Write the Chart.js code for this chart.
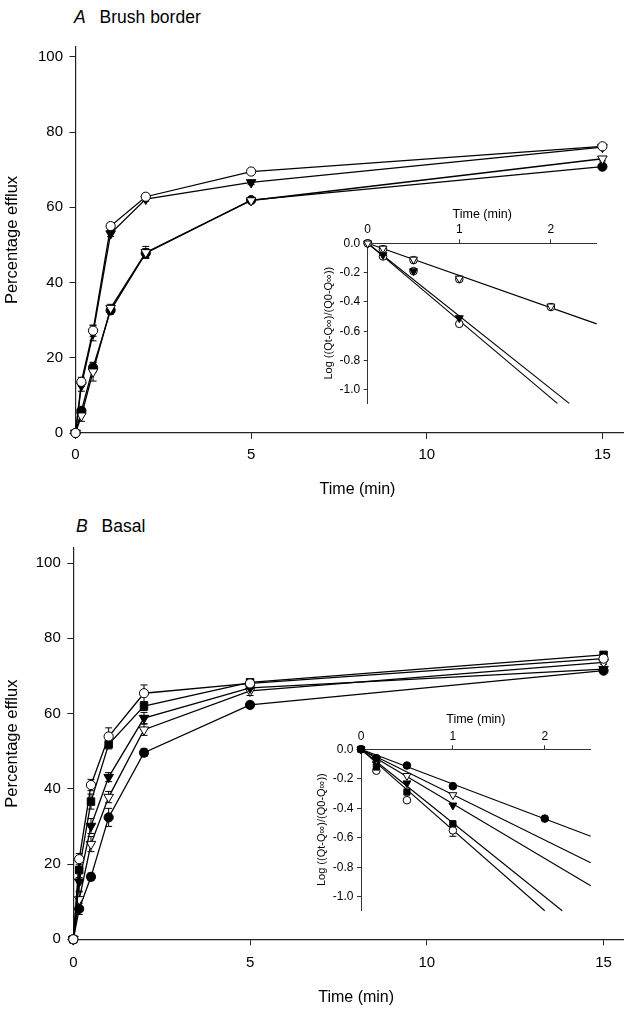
<!DOCTYPE html>
<html>
<head>
<meta charset="utf-8">
<script src="https://cdn.jsdelivr.net/npm/chart.js@4.4.0/dist/chart.umd.min.js"></script>
<style>
body { margin: 0; background: #fff; }
#wrap { position: relative; width: 630px; height: 1009px; font-family: "Liberation Sans", Arial, sans-serif; }
canvas { position: absolute; }
.panel { position: absolute; font-size: 17.5px; color: #000; white-space: nowrap; }
.panel i { margin-right: 9px; }
</style>
</head>
<body>
<div id="wrap">
  <div class="panel" style="left:74px;top:7px"><i>A</i> Brush border</div>
  <div class="panel" style="left:76px;top:516px"><i>B</i> Basal</div>
  <canvas id="mainA" width="630" height="505" style="left:0;top:0"></canvas>
  <canvas id="insetA" width="300" height="225" style="left:310px;top:190px"></canvas>
  <canvas id="mainB" width="630" height="509" style="left:0;top:500px"></canvas>
  <canvas id="insetB" width="305" height="222" style="left:300px;top:700px"></canvas>
</div>
<script>
// time points (min)
const times = [0, 0.167, 0.5, 1, 2, 5, 15];
const insetTimes = [0, 0.167, 0.5, 1, 2];

// A - brush border, percentage efflux
const aOpenCircle   = [0, 13.6, 27.2, 55.0, 62.8, 69.5, 76.2];
const aFilledTri    = [0, 12.6, 26.5, 53.0, 62.2, 66.6, 76.0];
const aOpenTri      = [0, 4.6, 16.3, 33.2, 48.0, 61.8, 72.9];
const aFilledCircle = [0, 5.9, 17.4, 32.6, 47.8, 61.9, 70.8];
const aErrOpenCircle   = [0, 1.2, 1.5, 0.8, 0.8, 0.6, 0.5];
const aErrFilledTri    = [0, 1.5, 2.0, 0.8, 0.6, 0.6, 0.5];
const aErrOpenTri      = [0, 1.5, 2.5, 1.0, 1.6, 0.5, 0.6];
const aErrFilledCircle = [0, 1.0, 1.2, 1.0, 1.2, 0.5, 0.5];

// A inset, log((Qt-Qinf)/(Q0-Qinf))
const aLogOpenCircle   = [0, -0.09, -0.19, -0.55, null];
const aLogFilledTri    = [0, -0.08, -0.19, -0.51, null];
const aLogOpenTri      = [0, -0.035, -0.11, -0.24, -0.43];
const aLogFilledCircle = [0, -0.04, -0.115, -0.245, -0.435];
// fitted lines: [start, end] as [t, log]
const aFitShallow = [[0, 0], [2.5, -0.55]];
const aFitSteep1  = [[0, 0], [2.07, -1.093]];
const aFitSteep2  = [[0, 0], [2.2, -1.093]];

// B - basal, percentage efflux
const bOpenCircle   = [0, 21.3, 41.0, 53.9, 65.4, 68.0, 74.6];
const bFilledSquare = [0, 18.4, 36.6, 51.8, 62.0, 68.3, 75.6];
const bFilledTri    = [0, 15.3, 30.1, 43.1, 58.8, 66.8, 71.8];
const bOpenTri      = [0, 10.6, 25.3, 37.8, 55.7, 66.0, 73.6];
const bFilledCircle = [0, 8.1, 16.6, 32.4, 49.6, 62.3, 71.4];
const bErrOpenCircle   = [0, 1.5, 1.5, 2.3, 2.2, 0.6, 0.5];
const bErrFilledSquare = [0, 2.0, 2.0, 1.2, 1.2, 0.6, 0.5];
const bErrFilledTri    = [0, 2.5, 2.0, 1.2, 1.5, 0.6, 0.5];
const bErrOpenTri      = [0, 2.0, 2.0, 1.5, 1.5, 1.2, 0.5];
const bErrFilledCircle = [0, 1.5, 1.0, 2.4, 1.0, 0.8, 0.5];

// B inset
const bLogOpenCircle   = [0, -0.145, -0.345, -0.55, null];
const bLogFilledSquare = [0, -0.12, -0.29, -0.505, null];
const bLogFilledTri    = [0, -0.10, -0.23, -0.38, null];
const bLogOpenTri      = [0, -0.07, -0.18, -0.31, null];
const bLogFilledCircle = [0, -0.06, -0.11, -0.25, -0.47];
const bLogErrOpenCircle = [0, 0, 0, 0.04, 0];
const bFitFilledCircle = [[0, 0], [2.5, -0.59]];
const bFitOpenTri      = [[0, 0], [2.5, -0.77]];
const bFitFilledTri    = [[0, 0], [2.5, -0.925]];
const bFitFilledSquare = [[0, 0], [2.19, -1.095]];
const bFitOpenCircle   = [[0, 0], [2.0, -1.095]];

Chart.defaults.font.family = '"Liberation Sans", Arial, sans-serif';
Chart.defaults.color = '#000';

const errorBars = {
  id: 'errorBars',
  beforeDatasetsDraw(chart) {
    const ctx = chart.ctx, ys = chart.scales.y;
    ctx.save();
    ctx.strokeStyle = '#000';
    ctx.lineWidth = 1;
    chart.data.datasets.forEach((ds, i) => {
      const meta = chart.getDatasetMeta(i);
      ds.data.forEach((p, j) => {
        if (!p.e) return;
        const x = meta.data[j].x;
        const top = ys.getPixelForValue(p.y + p.e);
        const bot = ys.getPixelForValue(p.y - p.e);
        ctx.beginPath();
        ctx.moveTo(x, top); ctx.lineTo(x, bot);
        ctx.moveTo(x - 3.5, top); ctx.lineTo(x + 3.5, top);
        ctx.moveTo(x - 3.5, bot); ctx.lineTo(x + 3.5, bot);
        ctx.stroke();
      });
    });
    ctx.restore();
  }
};

function marker(shape, filled, r) {
  return {
    pointStyle: shape === 'tri' ? 'triangle' : shape,
    pointRotation: shape === 'tri' ? 180 : 0,
    pointRadius: shape === 'tri' ? r * 1.2 : (shape === 'rect' ? r * 1.15 : r),
    pointBackgroundColor: filled ? '#000' : '#fff',
    pointBorderColor: '#000',
    pointBorderWidth: 1
  };
}

function points(ts, vals, errs) {
  const out = [];
  ts.forEach((t, i) => {
    if (vals[i] == null) return;
    out.push({ x: t, y: vals[i], e: errs ? errs[i] : 0 });
  });
  return out;
}

function mainChart(id, cfg) {
  const datasets = cfg.series.map(s => Object.assign({
    data: points(times, s.vals, s.errs),
    showLine: true,
    borderColor: '#000',
    borderWidth: 1.3,
    clip: false
  }, marker(s.shape, s.filled, 4.6)));
  return new Chart(document.getElementById(id), {
    type: 'scatter',
    data: { datasets: datasets },
    options: {
      responsive: false,
      animation: false,
      layout: { padding: { top: cfg.top, right: cfg.right, left: 0, bottom: 0 } },
      plugins: { legend: { display: false }, tooltip: { enabled: false } },
      scales: {
        x: {
          type: 'linear', min: 0, max: cfg.xMax,
          afterFit: s => { s.height = cfg.xH; },
          ticks: { stepSize: 5, includeBounds: false, font: { size: 15 }, padding: cfg.xTickPad, maxRotation: 0 },
          grid: { drawOnChartArea: false, tickLength: 6, color: '#222' },
          border: { color: '#222', width: 1.2 },
          title: { display: true, text: '\u2003Time (min)', font: { size: 16 }, padding: { top: 0, bottom: cfg.xTitlePad } }
        },
        y: {
          min: 0, max: cfg.yMax,
          afterFit: s => { s.width = cfg.yW; },
          ticks: { stepSize: 20, includeBounds: false, font: { size: 15 }, padding: 6.5 },
          grid: { drawOnChartArea: false, tickLength: 6, color: '#222' },
          border: { color: '#222', width: 1.2 },
          title: { display: true, text: 'Percentage efflux', font: { size: 16.5 }, padding: { top: 3, bottom: 0 } }
        }
      }
    },
    plugins: [errorBars]
  });
}

function insetChart(id, cfg) {
  const datasets = [];
  cfg.series.forEach(s => {
    datasets.push(Object.assign({
      data: points(insetTimes, s.vals, s.errs),
      showLine: false,
      clip: false
    }, marker(s.shape, s.filled, 3.8)));
  });
  cfg.fits.forEach(f => {
    datasets.push({
      data: f.map(p => ({ x: p[0], y: p[1] })),
      showLine: true,
      borderColor: '#000',
      borderWidth: 1.1,
      pointRadius: 0,
      clip: false
    });
  });
  return new Chart(document.getElementById(id), {
    type: 'scatter',
    data: { datasets: datasets },
    options: {
      responsive: false,
      animation: false,
      layout: { padding: { top: 0, right: cfg.right, left: 0, bottom: cfg.bottom } },
      plugins: { legend: { display: false }, tooltip: { enabled: false } },
      scales: {
        x: {
          type: 'linear', position: 'top', min: 0, max: 2.5,
          afterFit: s => { s.height = cfg.xH; },
          ticks: { stepSize: 1, includeBounds: false, font: { size: 12 }, padding: cfg.xTickPad, maxRotation: 0 },
          grid: { drawOnChartArea: false, tickLength: 4, color: '#333' },
          border: { color: '#333', width: 1 },
          title: { display: true, text: 'Time (min)', font: { size: 12.5 }, padding: { top: cfg.xTitlePad, bottom: 0 } }
        },
        y: {
          min: -1.09, max: 0,
          afterFit: s => { s.width = cfg.yW; },
          ticks: { stepSize: 0.2, includeBounds: false, font: { size: 12 }, padding: 3.5,
                   callback: v => v.toFixed(1) },
          grid: { drawOnChartArea: false, tickLength: 4, color: '#333' },
          border: { color: '#333', width: 1 },
          title: { display: true, text: 'Log ((Qt-Q\u221E)/(Q0-Q\u221E))', font: { size: 11 }, padding: { top: cfg.yTitlePad, bottom: 0 } }
        }
      }
    },
    plugins: [errorBars]
  });
}

mainChart('mainA', {
  top: 47, right: 4, xMax: 15.6, yMax: 102.6, yW: 75.5, xH: 72, xTickPad: 7, xTitlePad: 5.4,
  series: [
    { vals: aOpenCircle, errs: aErrOpenCircle, shape: 'circle', filled: false },
    { vals: aFilledTri, errs: aErrFilledTri, shape: 'tri', filled: true },
    { vals: aOpenTri, errs: aErrOpenTri, shape: 'tri', filled: false },
    { vals: aFilledCircle, errs: aErrFilledCircle, shape: 'circle', filled: true }
  ]
});

insetChart('insetA', {
  right: 13.3, bottom: 12, xH: 53.3, yW: 57.7, xTickPad: 2.1, xTitlePad: 17.5, yTitlePad: 12.7,
  series: [
    { vals: aLogOpenTri, shape: 'tri', filled: false },
    { vals: aLogFilledCircle, shape: 'circle', filled: false },
    { vals: aLogFilledTri, shape: 'tri', filled: true },
    { vals: aLogOpenCircle, shape: 'circle', filled: false }
  ],
  fits: [aFitShallow, aFitSteep1, aFitSteep2]
});

mainChart('mainB', {
  top: 48, right: 7, xMax: 15.55, yMax: 104, yW: 73.3, xH: 69.7, xTickPad: 8.7, xTitlePad: 1.7,
  series: [
    { vals: bOpenCircle, errs: bErrOpenCircle, shape: 'circle', filled: false },
    { vals: bFilledSquare, errs: bErrFilledSquare, shape: 'rect', filled: true },
    { vals: bFilledTri, errs: bErrFilledTri, shape: 'tri', filled: true },
    { vals: bOpenTri, errs: bErrOpenTri, shape: 'tri', filled: false },
    { vals: bFilledCircle, errs: bErrFilledCircle, shape: 'circle', filled: true }
  ]
});

insetChart('insetB', {
  right: 14.3, bottom: 12, xH: 49.3, yW: 61, xTickPad: 1.1, xTitlePad: 12.5, yTitlePad: 15.4,
  series: [
    { vals: bLogFilledCircle, shape: 'circle', filled: true },
    { vals: bLogOpenTri, shape: 'tri', filled: false },
    { vals: bLogFilledTri, shape: 'tri', filled: true },
    { vals: bLogFilledSquare, shape: 'rect', filled: true },
    { vals: bLogOpenCircle, errs: bLogErrOpenCircle, shape: 'circle', filled: false }
  ],
  fits: [bFitFilledCircle, bFitOpenTri, bFitFilledTri, bFitFilledSquare, bFitOpenCircle]
});
</script>
</body>
</html>
